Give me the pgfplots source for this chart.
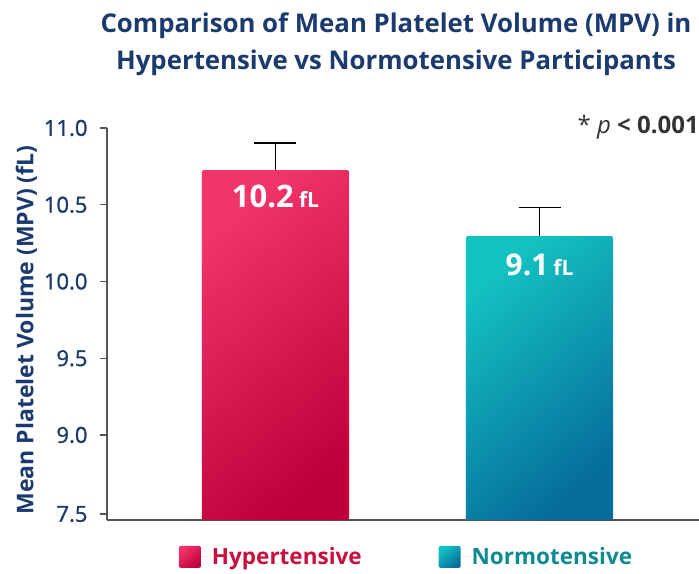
\documentclass[border=0pt]{standalone}
\usepackage{fontspec}
\setmainfont{Open Sans}
\newfontfamily\semib{Open Sans}[FakeBold=1.2]
\usepackage{pgfplots}
\pgfplotsset{compat=1.18}
\usepackage{pgfplotstable}
\definecolor{navy}{HTML}{1B3A6E}
\definecolor{hypL}{HTML}{F0356A}
\definecolor{hypM}{HTML}{E2004F}
\definecolor{hypD}{HTML}{C0003B}
\definecolor{norL}{HTML}{14C2C1}
\definecolor{norM}{HTML}{0AA0B2}
\definecolor{norD}{HTML}{066C9C}
\definecolor{hypT}{HTML}{C8103F}
\definecolor{norT}{HTML}{0E8A92}
\definecolor{axisgray}{HTML}{555555}
\definecolor{ptxt}{HTML}{333333}
\pgfplotstableread{
x y err lab
0 10.726 0.175 10.2
}\hyp
\pgfplotstableread{
x y err lab
1 10.296 0.185 9.1
}\nor
\begin{document}
\begin{tikzpicture}
\useasboundingbox (0,0) rectangle (699bp,574bp);
\node[navy, font=\fontsize{25.8bp}{37.5bp}\selectfont\bfseries, align=center] at (396bp,530bp)
  {Comparison of Mean Platelet Volume (MPV) in\\Hypertensive vs Normotensive Participants};
\begin{axis}[
  at={(107bp,54bp)}, anchor=south west,
  scale only axis, width=592bp, height=392bp,
  xmin=-0.638, xmax=1.604, ymin=8.446, ymax=11.0,
  axis x line=bottom, axis y line=left,
  axis line style={-, draw=axisgray, line width=1.3bp},
  xtick=\empty,
  ytick={8.485,9,9.5,10,10.5,11},
  yticklabels={7.5,9.0,9.5,10.0,10.5,11.0},
  tick align=outside, major tick length=7bp,
  tick style={draw=axisgray, line width=1.1bp},
  yticklabel style={navy, font=\fontsize{22bp}{26bp}\semib, xshift=-9bp},
  ylabel={Mean Platelet Volume (MPV) (fL)},
  ylabel style={navy, font=\fontsize{23bp}{27bp}\selectfont\bfseries},
  every axis y label/.append style={at={(ticklabel cs:0.5)}, xshift=-6bp},
  bar width=0.557, bar shift=0pt,
  clip=false,
  legend style={at={(0.506,-0.094)}, anchor=center, draw=none, fill=none,
    legend columns=2, font=\fontsize{22.5bp}{27bp}\selectfont\bfseries,
    /tikz/every even column/.append style={column sep=75bp}},
  legend cell align=left,
]
\addplot[ybar, draw=none, top color=hypL, middle color=hypM, bottom color=hypD, shading angle=40,
  rounded corners=2bp,
  legend image code/.code={\path[top color=hypL, middle color=hypM, bottom color=hypD, shading angle=40] (-11bp,-11bp) rectangle (11bp,11bp); \path (11bp,0bp) -- (20bp,0bp);},
  error bars/.cd, y dir=plus, y explicit,
  error bar style={black, line width=1.6bp},
  error mark options={rotate=90, black, line width=1.6bp, mark size=21bp},
  ] table[x=x, y=y, y error=err] {\hyp};
\addlegendentry{\textcolor{hypT}{Hypertensive}}
\addplot[ybar, draw=none, top color=norL, middle color=norM, bottom color=norD, shading angle=40,
  rounded corners=2bp,
  legend image code/.code={\path[top color=norL, middle color=norM, bottom color=norD, shading angle=40] (-11bp,-11bp) rectangle (11bp,11bp); \path (11bp,0bp) -- (20bp,0bp);},
  error bars/.cd, y dir=plus, y explicit,
  error bar style={black, line width=1.6bp},
  error mark options={rotate=90, black, line width=1.6bp, mark size=21bp},
  ] table[x=x, y=y, y error=err] {\nor};
\addlegendentry{\textcolor{norT}{Normotensive}}
\node[white, anchor=north, font=\bfseries] at (axis cs:0,10.65)
  {\fontsize{31bp}{34bp}\selectfont 10.2\,\fontsize{21bp}{24bp}\selectfont fL};
\node[white, anchor=north, font=\bfseries] at (axis cs:1,10.2)
  {\fontsize{30bp}{32bp}\selectfont 9.1\,\fontsize{21bp}{24bp}\selectfont fL};
\end{axis}
\node[anchor=east, ptxt, inner sep=0pt, font=\fontsize{24bp}{28bp}\selectfont] at (699bp,447bp)
  {* \textit{p} \textbf{<} \textbf{0.001}};
\end{tikzpicture}
\end{document}
